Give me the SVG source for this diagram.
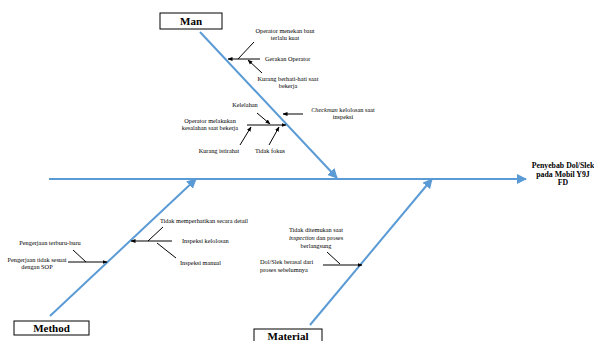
<svg xmlns="http://www.w3.org/2000/svg" width="594" height="341" viewBox="0 0 594 341">
<defs>
<marker id="ab" viewBox="0 0 10 10" refX="9" refY="5" markerWidth="5" markerHeight="5" orient="auto" markerUnits="strokeWidth"><path d="M0,0 L10,5 L0,10 z" fill="#5B9BD5"/></marker>
<marker id="ak" viewBox="0 0 10 10" refX="9" refY="5" markerWidth="5" markerHeight="5" orient="auto" markerUnits="strokeWidth"><path d="M0,1 L10,5 L0,9 z" fill="#000"/></marker>
<style>
.bone{stroke:#5B9BD5;stroke-width:2;fill:none}
.sub{stroke:#000;stroke-width:1;fill:none}
.box{fill:#fff;stroke:#000;stroke-width:1}
.lbl{font-family:"Liberation Serif","Times New Roman",serif;font-weight:bold;font-size:11px;text-anchor:middle;fill:#000}
.t{font-family:"Liberation Serif","Times New Roman",serif;font-size:6.3px;fill:#000}
.c{text-anchor:middle}
.eff{font-family:"Liberation Serif","Times New Roman",serif;font-weight:bold;font-size:7.8px;text-anchor:middle;fill:#000}
</style>
</defs>
<rect width="594" height="341" fill="#fff"/>
<g id="connectors">
<line class="bone" x1="49" y1="179" x2="526" y2="179" marker-end="url(#ab)"/>
<line class="bone" x1="200" y1="32" x2="337" y2="178" marker-end="url(#ab)"/>
<line class="bone" x1="50" y1="316" x2="196" y2="179" marker-end="url(#ab)"/>
<line class="bone" x1="310" y1="325" x2="432" y2="179" marker-end="url(#ab)"/>
<!-- Man cluster 1 -->
<line class="sub" x1="260" y1="59" x2="228" y2="59" marker-end="url(#ak)"/>
<line class="sub" x1="254" y1="42" x2="238" y2="59"/>
<line class="sub" x1="262" y1="73" x2="248" y2="60" marker-end="url(#ak)"/>
<!-- Man cluster 2 -->
<line class="sub" x1="247" y1="125" x2="286" y2="125" marker-end="url(#ak)"/>
<line class="sub" x1="257" y1="113" x2="270" y2="124" marker-end="url(#ak)"/>
<line class="sub" x1="240" y1="145" x2="251" y2="127" marker-end="url(#ak)"/>
<line class="sub" x1="269" y1="145" x2="279" y2="127" marker-end="url(#ak)"/>
<line class="sub" x1="303" y1="114" x2="283" y2="114" marker-end="url(#ak)"/>
<!-- Method -->
<line class="sub" x1="172" y1="241" x2="131" y2="241" marker-end="url(#ak)"/>
<line class="sub" x1="163" y1="227" x2="148" y2="241"/>
<line class="sub" x1="176" y1="258" x2="157" y2="243"/>
<line class="sub" x1="68" y1="262" x2="107" y2="262" marker-end="url(#ak)"/>
<line class="sub" x1="73" y1="250" x2="86" y2="262"/>
<!-- Material -->
<line class="sub" x1="323" y1="265" x2="362" y2="265" marker-end="url(#ak)"/>
<line class="sub" x1="327" y1="252" x2="340" y2="264"/>
</g>
<g id="man">
<rect class="box" x="160" y="13" width="62" height="16"/>
<text class="lbl" x="191" y="25">Man</text>
</g>
<g id="method">
<rect class="box" x="14" y="321" width="75" height="14"/>
<text class="lbl" x="51.5" y="332">Method</text>
</g>
<g id="material">
<rect class="box" x="254" y="329" width="68" height="16"/>
<text class="lbl" x="288" y="340">Material</text>
</g>
<g id="effect">
<text class="eff" x="563" y="168">Penyebab Dol/Slek</text>
<text class="eff" x="563" y="176.5">pada Mobil Y9J</text>
<text class="eff" x="563" y="185">FD</text>
</g>
<g id="man-causes">
<text class="t c" x="285" y="33">Operator menekan baut</text>
<text class="t c" x="285" y="40">terlalu kuat</text>
<text class="t" x="265" y="60.5">Gerakan Operator</text>
<text class="t c" x="288" y="81">Kurang berhati-hati saat</text>
<text class="t c" x="288" y="88">bekerja</text>
<text class="t c" x="245" y="107">Kelelahan</text>
<text class="t c" x="210" y="123">Operator melakukan</text>
<text class="t c" x="210" y="130">kesalahan saat bekerja</text>
<text class="t c" x="343" y="112"><tspan font-style="italic">Checkman</tspan> kelolosan saat</text>
<text class="t c" x="343" y="119">inspeksi</text>
<text class="t c" x="219" y="153">Kurang istirahat</text>
<text class="t c" x="270" y="153">Tidak fokus</text>
</g>
<g id="method-causes">
<text class="t" x="160" y="223">Tidak memperhatikan secara detail</text>
<text class="t" x="182" y="243">Inspeksi kelolosan</text>
<text class="t" x="180" y="265">Inspeksi manual</text>
<text class="t c" x="50" y="245">Pengerjaan terburu-buru</text>
<text class="t c" x="37" y="262">Pengerjaan tidak sesuai</text>
<text class="t c" x="37" y="269">dengan SOP</text>
</g>
<g id="material-causes">
<text class="t c" x="316" y="232">Tidak ditemukan saat</text>
<text class="t c" x="316" y="240"><tspan font-style="italic">inspection</tspan> dan proses</text>
<text class="t c" x="316" y="248">berlangsung</text>
<text class="t" x="260" y="264">Dol/Slek berasal dari</text>
<text class="t" x="260" y="272">proses sebelumnya</text>
</g>
</svg>
